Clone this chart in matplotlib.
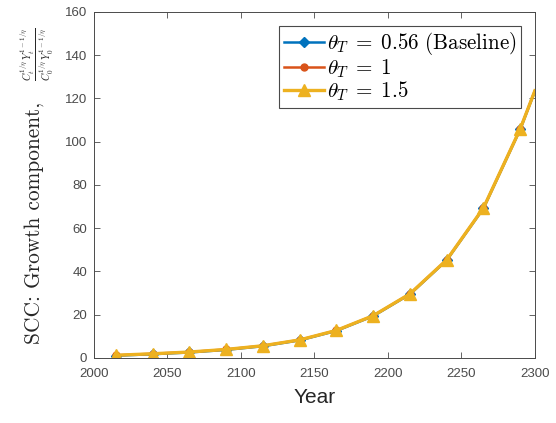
import matplotlib
matplotlib.use("Agg")
import matplotlib.pyplot as plt

plt.rcParams['mathtext.fontset'] = 'cm'
plt.rcParams['font.family'] = ['Liberation Sans', 'DejaVu Sans']

years = [2015, 2040, 2065, 2090, 2115, 2140, 2165, 2190, 2215, 2240, 2265, 2290, 2300]
n_markers = 12
base_vals = [1.0, 1.7, 2.5, 3.7, 5.4, 8.1, 12.5, 19.3, 29.4, 45.1, 69.1, 105.6, 123.3]
theta1_vals = [1.2, 1.9, 2.7, 3.9, 5.6, 8.3, 12.7, 19.5, 29.6, 45.3, 69.3, 105.8, 123.5]
theta15_vals = [1.2, 1.9, 2.7, 3.9, 5.6, 8.3, 12.7, 19.5, 29.6, 45.3, 69.3, 105.8, 123.5]

labels = [r'$\theta_T\;=\;0.56\ \mathrm{(Baseline)}$', r'$\theta_T\;=\;1$', r'$\theta_T\;=\;1.5$']
colors = ['#0072BD', '#D95319', '#EDB120']
markers = ['D', 'o', '^']
msizes = [5, 5, 8]
lws = [1.8, 1.8, 2.4]
series = [base_vals, theta1_vals, theta15_vals]

fig = plt.figure(figsize=(5.56, 4.23), dpi=100)
ax = fig.add_axes([0.169, 0.154, 0.793, 0.818])

for vals, c, m, ms, lw, lab in zip(series, colors, markers, msizes, lws, labels):
    ax.plot(years, vals, color=c, lw=lw, label=lab,
            marker=m, markevery=list(range(n_markers)), markersize=ms,
            markerfacecolor=c, markeredgecolor=c)

ax.set_xlim(2000, 2300)
ax.set_ylim(0, 160)
ax.set_xticks(range(2000, 2301, 50))
ax.set_yticks(range(0, 161, 20))
axc = '#4a4a4a'
ax.tick_params(direction='in', top=True, right=True, labelsize=9.5, colors=axc,
               length=4, width=0.6)
ax.tick_params(axis='x', pad=7)
ax.tick_params(axis='y', pad=5)
for s in ax.spines.values():
    s.set_color(axc)
    s.set_linewidth(0.7)

ax.set_xlabel('Year', fontsize=15, color='#262626', labelpad=6)

# y label: plain text part + fraction part
fig.text(0.062, 0.473, 'SCC: Growth component,', rotation=90, family='cmr10',
         fontsize=15.4, color='#262626', ha='center', va='center')
fig.text(0.068, 0.872, r'$\frac{C_t^{1/\eta}\,Y_t^{1-1/\eta}}{C_0^{1/\eta}\,Y_0^{1-1/\eta}}$',
         rotation=90, fontsize=10.5, color='#262626', ha='center', va='center')

leg = ax.legend(loc='upper right', fontsize=15.2, fancybox=False, framealpha=1,
                edgecolor=axc, handlelength=1.9, handletextpad=0.12,
                borderpad=0.22, labelspacing=0.0, borderaxespad=0.65)
leg.get_frame().set_linewidth(0.8)

fig.savefig('out.png', dpi=100)
